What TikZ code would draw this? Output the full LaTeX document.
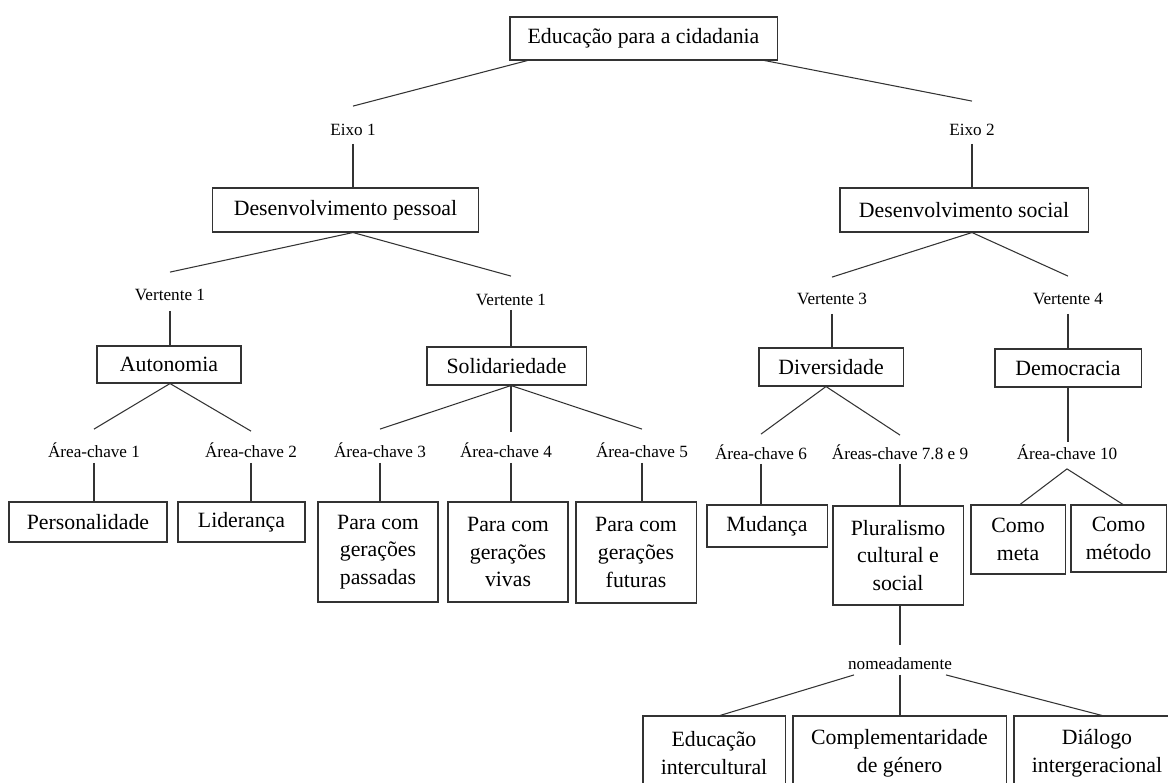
\documentclass[tikz,border=0pt]{standalone}
\usepackage{fontspec}
\setmainfont{Liberation Serif}
\usetikzlibrary{calc}

\begin{document}
\begin{tikzpicture}[x=0.025cm,y=-0.025cm,line width=0.75pt,
    box/.style={draw=black!80,inner sep=0pt,align=center,
      font=\fontsize{15.5}{19.6}\selectfont},
    lbl/.style={inner xsep=1pt,inner ysep=0pt,text height=8.5pt,text depth=2pt,
      font=\fontsize{12.2}{14}\selectfont},
    link/.style={draw=black!80}]
  \path[fill=white,use as bounding box] (0,0) rectangle (1168,782);

  % topo e eixos
  \node[box,minimum width=6.675cm,minimum height=1.075cm] (topo) at (643.5,38.5) {Educação para a cidadania};
  \node[lbl] (eixoA) at (353,131) {Eixo 1};
  \node[lbl] (eixoB) at (972,131) {Eixo 2};
  \node[box,minimum width=6.625cm,minimum height=1.1cm] (pessoal) at (345.5,210) {Desenvolvimento pessoal};
  \node[box,minimum width=6.2cm,minimum height=1.1cm] (social) at (964,210) {Desenvolvimento social};

  % vertentes
  \node[lbl] (vertA) at (170,296) {Vertente 1};
  \node[lbl] (vertB) at (511,301) {Vertente 1};
  \node[lbl] (vertC) at (832,300) {Vertente 3};
  \node[lbl] (vertD) at (1068,300) {Vertente 4};
  \node[box,minimum width=3.6cm,minimum height=0.925cm] (autonomia) at (169,364.5) {Autonomia};
  \node[box,minimum width=3.975cm,minimum height=0.95cm] (solidar) at (506.5,366) {Solidariedade};
  \node[box,minimum width=3.6cm,minimum height=0.95cm] (diversid) at (831,367) {Diversidade};
  \node[box,minimum width=3.65cm,minimum height=0.95cm] (democrac) at (1068,368) {Democracia};

  % areas-chave
  \node[lbl] (area1) at (94,453) {Área-chave 1};
  \node[lbl] (area2) at (251,453) {Área-chave 2};
  \node[lbl] (area3) at (380,453) {Área-chave 3};
  \node[lbl] (area4) at (506,453) {Área-chave 4};
  \node[lbl] (area5) at (642,453) {Área-chave 5};
  \node[lbl] (area6) at (761,455) {Área-chave 6};
  \node[lbl] (area7) at (900,455) {Áreas-chave 7.8 e 9};
  \node[lbl] (area10) at (1067,455) {Área-chave 10};

  \node[box,minimum width=3.95cm,minimum height=1cm] (person) at (88,522) {Personalidade};
  \node[box,minimum width=3.175cm,minimum height=1cm] (lider) at (241.5,522) {Liderança};
  \node[box,minimum width=3cm,minimum height=2.5cm] (passadas) at (378,552) {Para com\\gerações\\passadas};
  \node[box,minimum width=3cm,minimum height=2.5cm] (vivas) at (508,552) {Para com\\gerações\\vivas};
  \node[box,minimum width=3cm,minimum height=2.525cm] (futuras) at (636,552.5) {Para com\\gerações\\futuras};
  \node[box,minimum width=3cm,minimum height=1.05cm] (mudanca) at (767,526) {Mudança};
  \node[box,minimum width=3.25cm,minimum height=2.475cm] (plural) at (898,555.5) {Pluralismo\\cultural e\\social};
  \node[box,minimum width=2.35cm,minimum height=1.725cm] (meta) at (1018,539.5) {Como\\meta};
  \node[box,minimum width=2.375cm,minimum height=1.675cm] (metodo) at (1118.5,538.5) {Como\\método};

  \node[lbl] (nomead) at (900,665) {nomeadamente};
  \node[box,minimum width=3.55cm,minimum height=1.85cm] (intercult) at (714,753) {Educação\\intercultural};
  \node[box,minimum width=5.325cm,minimum height=1.85cm] (genero) at (899.5,753) {Complementaridade\\de género};
  \node[box,minimum width=4.15cm,minimum height=1.85cm] (dialogo) at (1097,753) {Diálogo\\intergeracional};

  % ligacoes
  \draw[link] ($(topo.south west)+(18,0)$) -- ($(eixoA.north)+(0,-17)$);
  \draw[link] ($(topo.south east)+(-13,0)$) -- ($(eixoB.north)+(0,-22)$);
  \draw[link] ($(eixoA.south)+(0,5)$) -- (eixoA |- pessoal.north);
  \draw[link] ($(eixoB.south)+(0,5)$) -- (eixoB |- social.north);

  \draw[link] ($(vertA.north)+(0,-16)$) -- (eixoA |- pessoal.south) -- ($(vertB.north)+(0,-17)$);
  \draw[link] ($(vertC.north)+(0,-15)$) -- (eixoB |- social.south) -- ($(vertD.north)+(0,-16)$);
  \draw[link] ($(vertA.south)+(0,7)$) -- (vertA |- autonomia.north);
  \draw[link] ($(vertB.south)+(0,1)$) -- (vertB |- solidar.north);
  \draw[link] ($(vertC.south)+(0,6)$) -- (vertC |- diversid.north);
  \draw[link] ($(vertD.south)+(0,6)$) -- (vertD |- democrac.north);

  \draw[link] ($(area1.north)+(0,-16)$) -- (vertA |- autonomia.south) -- ($(area2.north)+(0,-14)$);
  \draw[link] ($(area3.north)+(0,-16)$) -- (vertB |- solidar.south) -- ($(area5.north)+(0,-16)$);
  \draw[link] (vertB |- solidar.south) -- ($(vertB |- area4.north)+(0,-13)$);
  \draw[link] ($(area6.north)+(0,-13)$) -- ($(diversid.south)+(-5,0)$) -- ($(area7.north)+(0,-12)$);
  \draw[link] (vertD |- democrac.south) -- ($(vertD |- area10.north)+(0,-5)$);

  \draw[link] ($(area1.south)+(0,2)$) -- (area1 |- person.north);
  \draw[link] ($(area2.south)+(0,2)$) -- (area2 |- lider.north);
  \draw[link] ($(area3.south)+(0,2)$) -- (area3 |- passadas.north);
  \draw[link] ($(vertB |- area4.south)+(0,2)$) -- (vertB |- vivas.north);
  \draw[link] ($(area5.south)+(0,2)$) -- (area5 |- futuras.north);
  \draw[link] ($(area6.south)+(0,1)$) -- (area6 |- mudanca.north);
  \draw[link] ($(area7.south)+(0,1)$) -- (area7 |- plural.north);
  \draw[link] ($(meta.north)+(2,0)$) -- ($(area10.south)+(0,6)$) -- ($(metodo.north)+(4.5,0)$);

  \draw[link] (nomead |- plural.south) -- ($(nomead.north)+(0,-12)$);
  \draw[link] ($(nomead.south)+(-46,2)$) -- ($(intercult.north)+(6,0)$);
  \draw[link] ($(nomead.south)+(0,2)$) -- (nomead |- genero.north);
  \draw[link] ($(nomead.south)+(46,2)$) -- ($(dialogo.north)+(5,0)$);
\end{tikzpicture}
\end{document}
